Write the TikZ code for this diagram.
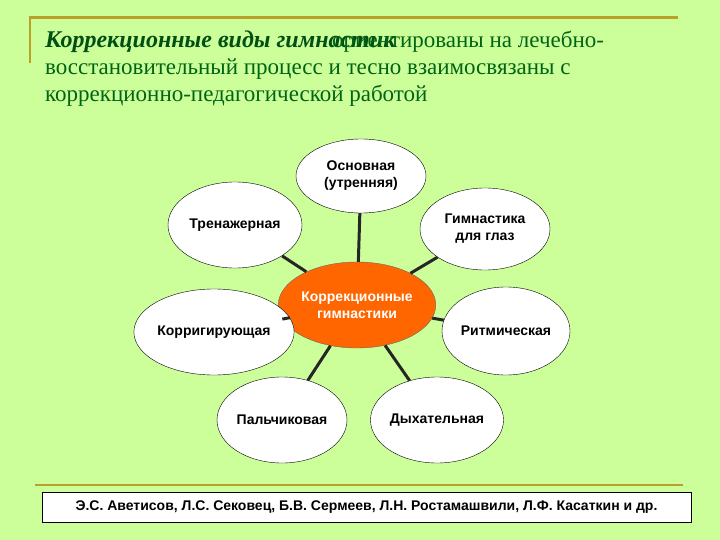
\documentclass[tikz,border=0pt]{standalone}
\usepackage{fontspec}
\setmainfont{Liberation Serif}
\setsansfont{Liberation Sans}
\usetikzlibrary{shapes.geometric}

\definecolor{slidegreen}{RGB}{204,255,153}
\definecolor{titlegreen}{RGB}{0,100,20}
\definecolor{headgreen}{RGB}{0,80,20}
\definecolor{rulegold}{RGB}{186,160,40}
\definecolor{huborange}{RGB}{255,102,0}

\begin{document}
\begin{tikzpicture}[x=1pt,y=-1pt,
    kind/.style={ellipse, draw=black, fill=white, minimum width=130pt,
      minimum height=86pt, inner sep=0pt, align=center,
      font=\sffamily\bfseries\fontsize{14}{17}\selectfont},
    hub/.style={kind, fill=huborange, draw=black!60, text=white,
      minimum width=128pt},
    link/.style={line width=3pt, black!85},
    titletext/.style={anchor=base west, inner sep=0pt, text=titlegreen,
      font=\fontsize{23}{26}\selectfont}]

    % Slide background and frame lines
    \fill[slidegreen] (0,0) rectangle (720,540);
    \useasboundingbox (0,0) rectangle (720,540);
    \draw[rulegold, line width=2.5pt] (30,63) -- (30,17.5) -- (678,17.5);
    \draw[rulegold, line width=2.5pt] (35,485) -- (683,485);

    % Title (the two first-line texts overlap)
    \node[titletext, text=headgreen, font=\fontsize{24}{26}\selectfont\bfseries\itshape] (head) at (45,48) {Коррекционные виды гимнастик};
    \node[titletext] (line1) at (332,48) {ориентированы на лечебно-};
    \node[titletext] (line2) at (45,75) {восстановительный процесс и тесно взаимосвязаны с};
    \node[titletext] (line3) at (45,102) {коррекционно-педагогической работой};

    % Centre and the kinds of gymnastics
    \node[hub] (hub) at (357,305) {Коррекционные\\гимнастики};
    \node[kind, minimum height=74pt] (basic) at (361,176) {Основная\\(утренняя)};
    \node[kind, minimum width=134pt] (trainer) at (235,225) {Тренажерная};
    \node[kind, minimum height=82pt] (eyes) at (485,229) {Гимнастика\\для глаз};
    \node[kind, minimum width=128pt] (correct) at (214,332) {Корригирующая};
    \node[kind, minimum width=128pt, minimum height=88pt] (rhythm) at (506,331) {Ритмическая};
    \node[kind] (finger) at (282,420) {Пальчиковая};
    \node[kind] (breath) at (437,420) {Дыхательная};

    % Connectors
    \foreach \k in {basic, trainer, eyes, correct, rhythm, finger, breath}
        \draw[link] (hub) -- (\k);

    % Authors
    \node[draw=black, fill=white, minimum width=649pt, minimum height=30pt,
      inner sep=0pt, font=\sffamily\bfseries\fontsize{14}{15}\selectfont]
      (authors) at (366.5,507) {Э.С. Аветисов, Л.С. Сековец, Б.В. Сермеев, Л.Н. Ростамашвили, Л.Ф. Касаткин и др.};

\end{tikzpicture}
\end{document}
